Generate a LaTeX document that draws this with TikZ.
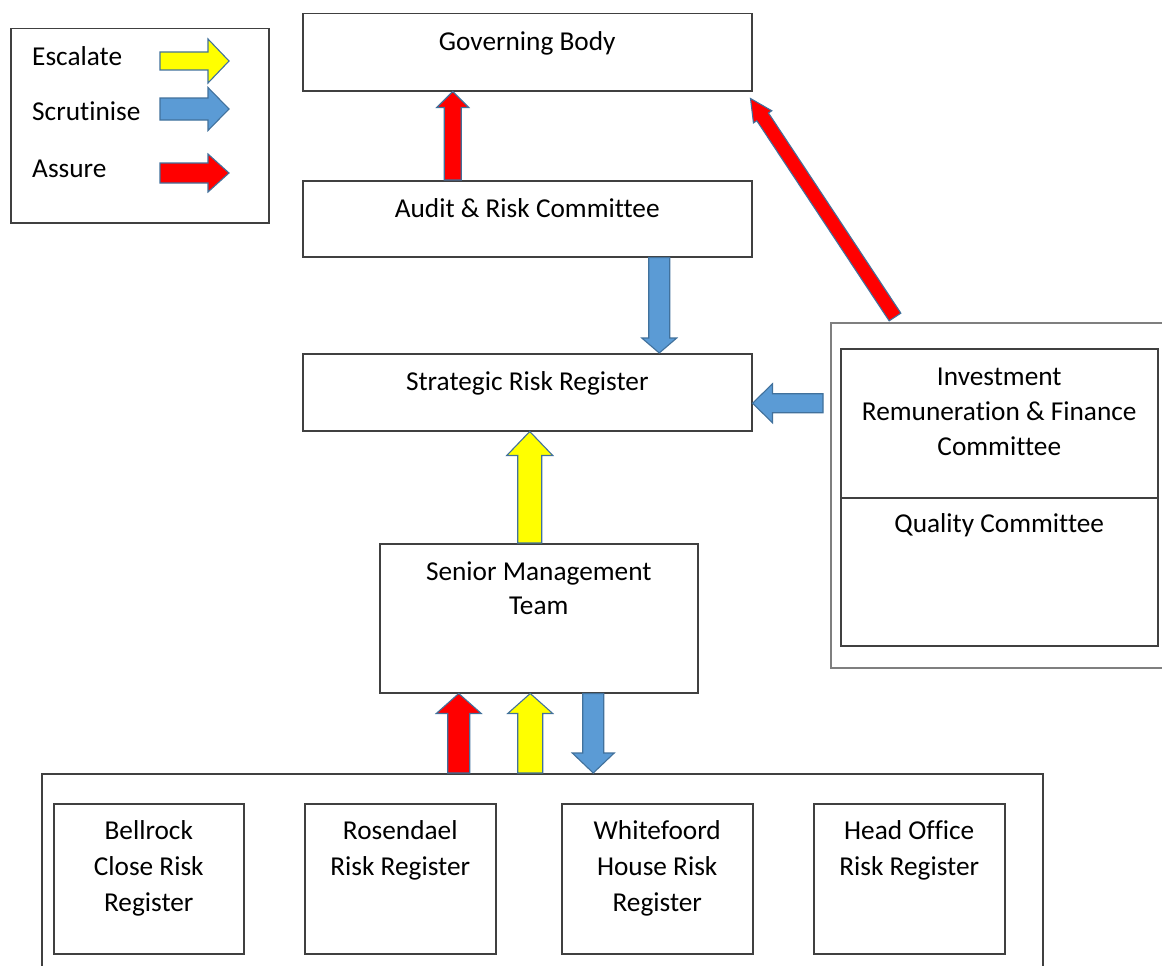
\documentclass[tikz,border=0pt]{standalone}
\usepackage{fontspec}
\setmainfont{Carlito}[Ligatures={NoCommon}]
\usetikzlibrary{calc}
\definecolor{ayel}{HTML}{FFFF00}
\definecolor{ablue}{HTML}{5B9BD5}
\definecolor{ared}{HTML}{FF0000}
\definecolor{aline}{HTML}{41719C}
\definecolor{boxline}{HTML}{404040}
\definecolor{boxgray}{HTML}{7F7F7F}
\newcommand{\fstrut}{\rule{0pt}{20pt}}
% #1 style, #2 from, #3 to, #4 shaft half width, #5 head half width, #6 head length
\newcommand{\blockarrow}[6]{%
  \coordinate (bh) at ($(#3)!#6!(#2)$);
  \filldraw[#1] ($(#2)!#4!90:(#3)$) -- ($(bh)!#4!90:(#3)$) -- ($(bh)!#5!90:(#3)$) -- (#3)
    -- ($(bh)!#5!-90:(#3)$) -- ($(bh)!#4!-90:(#3)$) -- ($(#2)!#4!-90:(#3)$) -- cycle;}
\tikzset{
  box/.style={draw=boxline, line width=1.5pt, fill=white, inner sep=0pt, anchor=north west},
  txt/.style={font=\fontsize{27.3}{35}\selectfont, align=center, inner sep=0pt, anchor=north},
  ltxt/.style={font=\fontsize{27.3}{35}\selectfont, inner sep=0pt, anchor=base west},
  yarrow/.style={fill=ayel, draw=aline, line width=1.1pt, line join=miter},
  barrow/.style={fill=ablue, draw=aline, line width=1.1pt, line join=miter},
  rarrow/.style={fill=ared, draw=aline, line width=1.1pt, line join=miter},
}
\begin{document}
\begin{tikzpicture}[x=1pt, y=-1pt]
\clip (0,0) rectangle (1162,966);
\fill[white] (0,0) rectangle (1162,966);

% legend
\node[box, minimum width=258pt, minimum height=194pt] (leg) at (10,28) {};
\node[ltxt] (lesc) at ([shift={(22pt,-38pt)}]leg.north west) {Escalate};
\node[ltxt] (lscr) at ([shift={(22pt,-93pt)}]leg.north west) {Scrutinise};
\node[ltxt] (lass) at ([shift={(22pt,-149pt)}]leg.north west) {Assure};
\coordinate (ly1) at ([shift={(150pt,-33pt)}]leg.north west);
\coordinate (ly2) at ([shift={(219pt,-33pt)}]leg.north west);
\coordinate (lb1) at ([shift={(150pt,-81pt)}]leg.north west);
\coordinate (lb2) at ([shift={(219pt,-81pt)}]leg.north west);
\coordinate (lr1) at ([shift={(150pt,-145pt)}]leg.north west);
\coordinate (lr2) at ([shift={(219pt,-145pt)}]leg.north west);
\blockarrow{yarrow}{ly1}{ly2}{9pt}{22pt}{21pt}
\blockarrow{barrow}{lb1}{lb2}{11pt}{21.5pt}{21pt}
\blockarrow{rarrow}{lr1}{lr2}{10pt}{19pt}{21pt}

% main boxes
\node[box, minimum width=449pt, minimum height=77pt] (gov) at (302,13) {};
\node[box, minimum width=449pt, minimum height=76pt] (aud) at (302,180) {};
\node[box, minimum width=449pt, minimum height=77pt] (str) at (302,353) {};
\node[box, minimum width=318pt, minimum height=149pt] (sen) at (379,543) {};
\node[box, draw=boxgray, minimum width=345pt, minimum height=345pt] (outer) at (830,322) {};
\node[box, minimum width=317pt, minimum height=149pt] (inv) at (840,348) {};
\node[box, minimum width=317pt, minimum height=148pt] (qual) at (840,497) {};
\node[box, minimum width=1001pt, minimum height=230pt] (bot) at (41,773) {};
\node[box, minimum width=190pt, minimum height=150pt] (bel) at (53,803) {};
\node[box, minimum width=191pt, minimum height=150pt] (ros) at (304,803) {};
\node[box, minimum width=191pt, minimum height=150pt] (whi) at (561,803) {};
\node[box, minimum width=191pt, minimum height=150pt] (hea) at (813,803) {};

% texts
\node[txt] (tgov) at ([yshift=-17.5pt]gov.north) {\fstrut Governing Body};
\node[txt] (taud) at ([yshift=-17.5pt]aud.north) {\fstrut Audit \& Risk Committee};
\node[txt] (tstr) at ([yshift=-17.5pt]str.north) {\fstrut Strategic Risk Register};
\node[txt, font=\fontsize{27.3}{34}\selectfont] (tsen) at ([yshift=-17.5pt]sen.north) {\fstrut Senior Management\\Team};
\node[txt] (tinv) at ([yshift=-17.5pt]inv.north) {\fstrut Investment\\Remuneration \& Finance\\Committee};
\node[txt] (tqual) at ([yshift=-15.5pt]qual.north) {\fstrut Quality Committee};
\node[txt, font=\fontsize{27.3}{36}\selectfont] (tbel) at ([yshift=-16.5pt]bel.north) {\fstrut Bellrock\\Close Risk\\Register};
\node[txt, font=\fontsize{27.3}{36}\selectfont] (tros) at ([yshift=-16.5pt]ros.north) {\fstrut Rosendael\\Risk Register};
\node[txt, font=\fontsize{27.3}{36}\selectfont] (twhi) at ([yshift=-16.5pt]whi.north) {\fstrut Whitefoord\\House Risk\\Register};
\node[txt, font=\fontsize{27.3}{36}\selectfont] (thea) at ([yshift=-16.5pt]hea.north) {\fstrut Head Office\\Risk Register};

% connectors
% Audit -> Governing Body (assure)
\coordinate (c1a) at ([xshift=-74.5pt]aud.north);
\coordinate (c1b) at (c1a |- gov.south);
\blockarrow{rarrow}{c1a}{c1b}{8.5pt}{16pt}{16pt}
% Audit -> Strategic (scrutinise)
\coordinate (c2a) at ([xshift=132pt]aud.south);
\coordinate (c2b) at (c2a |- str.north);
\blockarrow{barrow}{c2a}{c2b}{10.5pt}{17.5pt}{15pt}
% committees -> Strategic (scrutinise)
\coordinate (c3s) at ([yshift=-11pt]str.east);
\coordinate (c3o) at (c3s -| outer.west);
\coordinate (c3a) at ([xshift=-7pt]c3o);
\blockarrow{barrow}{c3a}{c3s}{9.5pt}{19.5pt}{20pt}
% committees -> Governing Body (assure)
\coordinate (c4a) at ([shift={(65pt,5pt)}]outer.north west);
\coordinate (c4b) at ([shift={(-2pt,-7pt)}]gov.south east);
\blockarrow{rarrow}{c4a}{c4b}{7pt}{11pt}{22pt}
% Senior -> Strategic (escalate)
\coordinate (c5a) at ([xshift=-9pt]sen.north);
\coordinate (c5b) at (c5a |- str.south);
\blockarrow{yarrow}{c5a}{c5b}{12pt}{23pt}{24pt}
% registers <-> Senior
\coordinate (c6b) at ([xshift=-80pt]sen.south);
\coordinate (c6a) at (c6b |- bot.north);
\blockarrow{rarrow}{c6a}{c6b}{11pt}{22.5pt}{20pt}
\coordinate (c7b) at ([xshift=-8.5pt]sen.south);
\coordinate (c7a) at (c7b |- bot.north);
\blockarrow{yarrow}{c7a}{c7b}{12.5pt}{22.5pt}{20pt}
\coordinate (c8a) at ([xshift=54.5pt]sen.south);
\coordinate (c8b) at (c8a |- bot.north);
\blockarrow{barrow}{c8a}{c8b}{10.5pt}{21pt}{20pt}
\end{tikzpicture}
\end{document}
